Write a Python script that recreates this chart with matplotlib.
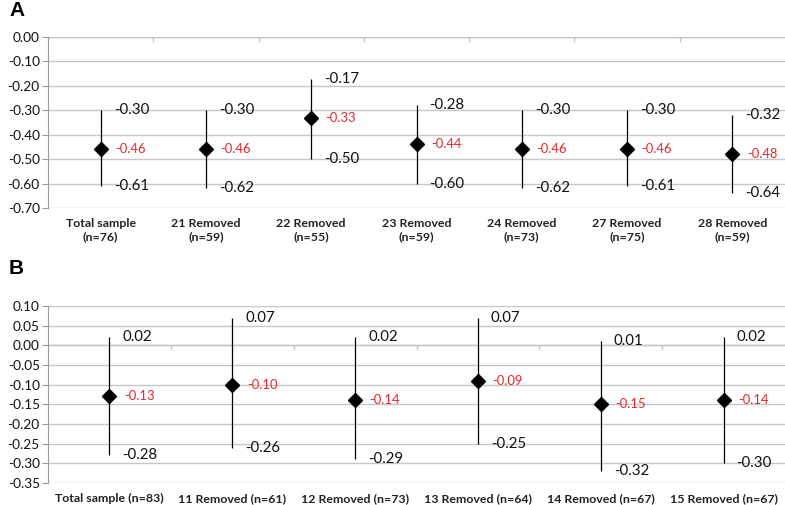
import matplotlib
matplotlib.use("Agg")
import matplotlib.pyplot as plt
import numpy as np

plt.rcParams['font.family'] = ['Lato', 'DejaVu Sans']

# Panel A data
cats_a = ["Total sample\n(n=76)", "21 Removed\n(n=59)", "22 Removed\n(n=55)", "23 Removed\n(n=59)",
          "24 Removed\n(n=73)", "27 Removed\n(n=75)", "28 Removed\n(n=59)"]
mean_a = [-0.46, -0.46, -0.33, -0.44, -0.46, -0.46, -0.48]
upper_a = [-0.30, -0.30, -0.17, -0.28, -0.30, -0.30, -0.32]
lower_a = [-0.61, -0.62, -0.50, -0.60, -0.62, -0.61, -0.64]
yticks_a = [0.00, -0.10, -0.20, -0.30, -0.40, -0.50, -0.60, -0.70]

# Panel B data
cats_b = ["Total sample (n=83)", "11 Removed (n=61)", "12 Removed (n=73)", "13 Removed (n=64)",
          "14 Removed (n=67)", "15 Removed (n=67)"]
mean_b = [-0.13, -0.10, -0.14, -0.09, -0.15, -0.14]
upper_b = [0.02, 0.07, 0.02, 0.07, 0.01, 0.02]
lower_b = [-0.28, -0.26, -0.29, -0.25, -0.32, -0.30]
yticks_b = [0.10, 0.05, 0.00, -0.05, -0.10, -0.15, -0.20, -0.25, -0.30, -0.35]

W, H = 785, 505
fig = plt.figure(figsize=(W / 100, H / 100), dpi=100)

GRID = '#c6c6c6'
AXC = '#9a9a9a'


def panel(rect, cats, mean, upper, lower, yticks, letter, letter_y):
    ax = fig.add_axes(rect)
    n = len(cats)
    x = np.arange(n)
    ymin, ymax = min(yticks), max(yticks)
    ax.set_xlim(-0.5, n - 0.5)
    ax.set_ylim(ymin, ymax)
    ax.set_yticks(yticks)
    ax.set_yticklabels([f"{v:.2f}" for v in yticks], fontsize=9.8, color='#111111')
    for v in yticks:
        ax.axhline(v, color=GRID, lw=1.0, zorder=0)
    for s in ['top', 'right', 'bottom']:
        ax.spines[s].set_visible(False)
    ax.spines['left'].set_color(AXC)
    ax.tick_params(axis='y', length=4, color=AXC, pad=2)
    ax.set_xticks(x)
    ax.set_xticklabels(cats, fontsize=8.9, fontweight='bold', color='#222222', linespacing=1.25)
    ax.tick_params(axis='x', length=0, pad=7)
    # horizontal axis at 0 with boundary ticks
    ax.axhline(0, color=GRID, lw=1.0, zorder=0)
    hpx = rect[3] * H
    tl = 4 * (ymax - ymin) / hpx
    for b in np.arange(0.5, n - 0.5, 1.0):
        ax.plot([b, b], [0, -tl], color=GRID, lw=1.0, zorder=0)
    mean = np.array(mean); upper = np.array(upper); lower = np.array(lower)
    ax.errorbar(x, mean, yerr=[mean - lower, upper - mean], fmt='none', ecolor='black',
                elinewidth=0.9, capsize=0, zorder=2)
    ax.plot(x, mean, linestyle='none', marker='D', markersize=7.3, color='black', zorder=3)
    wpx = rect[2] * W / n
    off = 13 / wpx
    for xi, m, u, l in zip(x, mean, upper, lower):
        ax.text(xi + off, u, f"{u:.2f}", fontsize=10.8, va='center', ha='left', color='#111111')
        ax.text(xi + off, l, f"{l:.2f}", fontsize=10.8, va='center', ha='left', color='#111111')
        ax.text(xi + off + 1.5 / wpx, m, f"{m:.2f}", fontsize=9.4, va='center', ha='left', color='#e8262a')
    fig.text(9 / W, 1 - letter_y / H, letter, fontsize=15, fontweight='bold', va='center', ha='left',
             family=['Liberation Sans', 'DejaVu Sans'])
    return ax


panel([48 / W, 1 - 208 / H, 737 / W, 171 / H], cats_a, mean_a, upper_a, lower_a, yticks_a, 'A', 11)
panel([48 / W, 1 - 483 / H, 737 / W, 177 / H], cats_b, mean_b, upper_b, lower_b, yticks_b, 'B', 268)

fig.savefig('out.png', dpi=100)
